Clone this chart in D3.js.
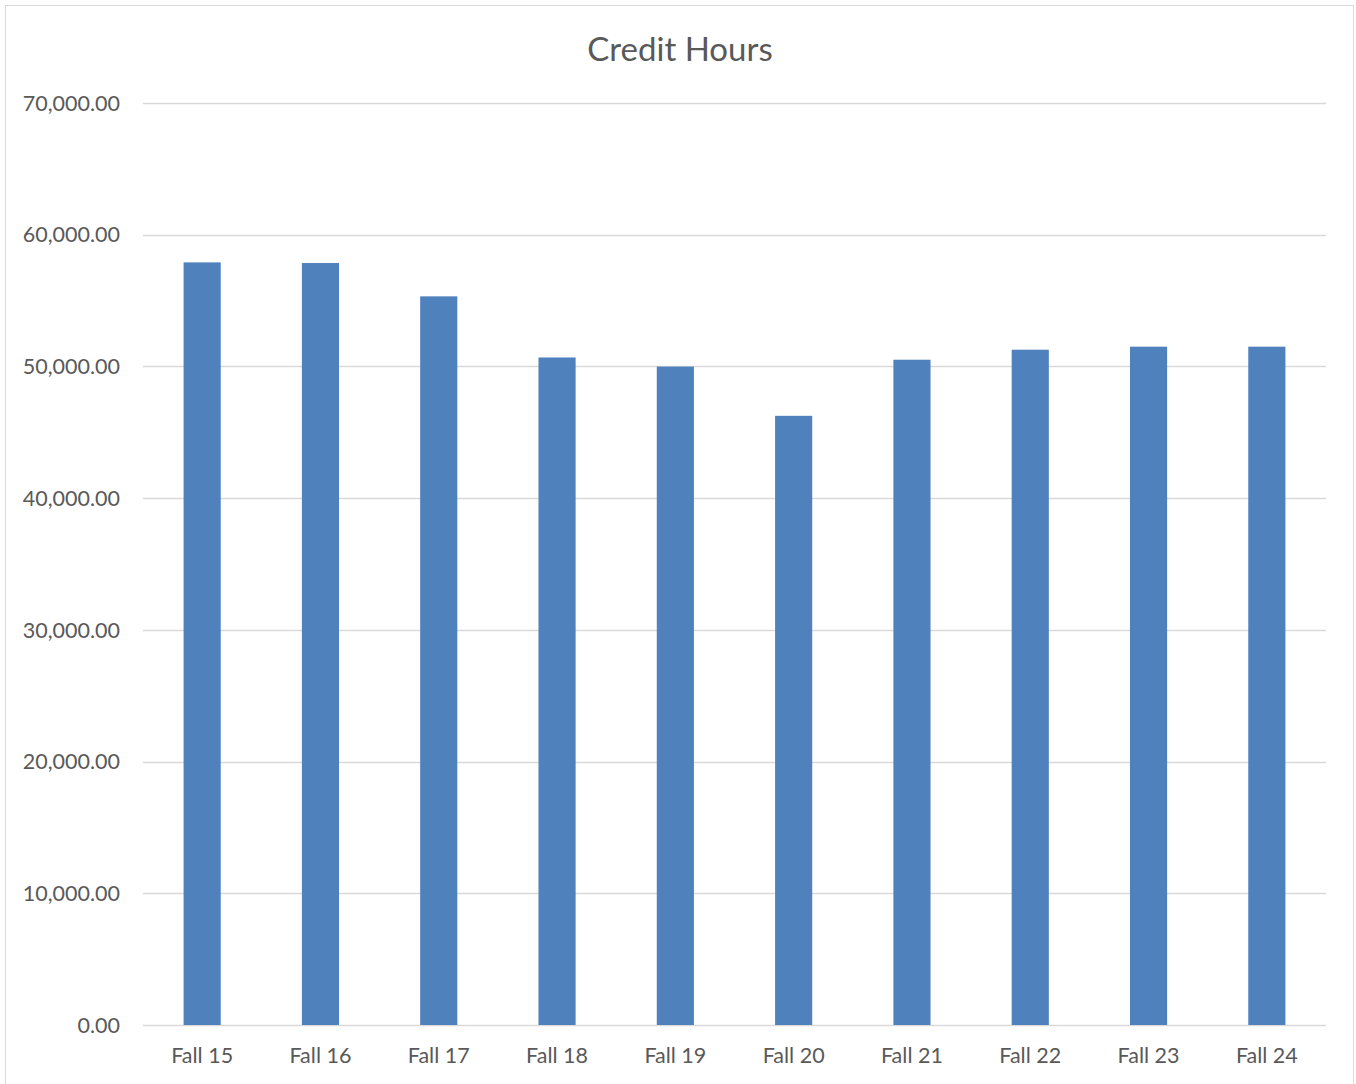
<!DOCTYPE html>
<html>
<head>
<meta charset="utf-8">
<script src="https://cdn.jsdelivr.net/npm/d3@7"></script>
<style>
  body { margin: 0; background: #fff; }
  text { font-family: Lato, "Open Sans", sans-serif; fill: #595959; }
</style>
</head>
<body>
<svg id="chart"></svg>
<script>
const terms = ["Fall 15", "Fall 16", "Fall 17", "Fall 18", "Fall 19", "Fall 20", "Fall 21", "Fall 22", "Fall 23", "Fall 24"]
const creditHours = [57900, 57850, 55320, 50680, 49990, 46250, 50510, 51270, 51500, 51500]
const yTicks = [0, 10000, 20000, 30000, 40000, 50000, 60000, 70000]

const WIDTH = 1356, HEIGHT = 1084
const margin = { top: 103, right: 30, bottom: 59, left: 143 }

const svg = d3.select('#chart').attr('width', WIDTH).attr('height', HEIGHT)

// chart frame
svg.append('rect')
    .attr('x', 5.5).attr('y', 5.5)
    .attr('width', WIDTH - 8).attr('height', HEIGHT + 20)
    .attr('fill', 'none')
    .attr('stroke', '#d9d9d9')

const x = d3.scaleBand()
    .domain(terms)
    .range([margin.left, WIDTH - margin.right])
    .paddingInner(0.686)
    .paddingOuter(0.343)

const y = d3.scaleLinear()
    .domain([0, 70000])
    .range([HEIGHT - margin.bottom, margin.top])

// gridlines
svg.append('g')
    .selectAll('line')
    .data(yTicks)
    .join('line')
    .attr('x1', margin.left)
    .attr('x2', WIDTH - margin.right)
    .attr('y1', d => Math.round(y(d)) + 0.5)
    .attr('y2', d => Math.round(y(d)) + 0.5)
    .attr('stroke', '#d9d9d9')
    .attr('stroke-width', 1.5)

// y labels
const fmt = d3.format(',.2f')
svg.append('g')
    .selectAll('text')
    .data(yTicks)
    .join('text')
    .attr('x', 120)
    .attr('y', d => y(d))
    .attr('dy', '0.36em')
    .attr('text-anchor', 'end')
    .style('font-size', '21.5px')
    .text(d => fmt(d))

// bars
svg.append('g')
    .selectAll('rect')
    .data(terms)
    .join('rect')
    .attr('x', d => x(d))
    .attr('width', x.bandwidth())
    .attr('y', (d, i) => y(creditHours[i]))
    .attr('height', (d, i) => y(0) - y(creditHours[i]))
    .attr('fill', '#4f81bd')

// x labels
svg.append('g')
    .selectAll('text')
    .data(terms)
    .join('text')
    .attr('x', d => x(d) + x.bandwidth() / 2)
    .attr('y', 1063)
    .attr('text-anchor', 'middle')
    .style('font-size', '21.5px')
    .text(d => d)

// title
svg.append('text')
    .attr('x', 680)
    .attr('y', 61)
    .attr('text-anchor', 'middle')
    .style('font-size', '33px')
    .text('Credit Hours')
</script>
</body>
</html>
